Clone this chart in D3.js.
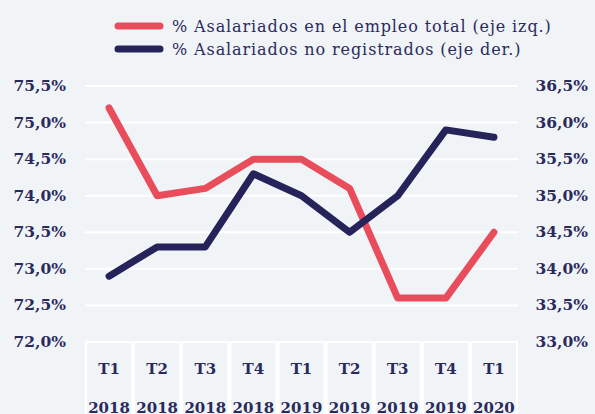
<!DOCTYPE html>
<html>
<head>
<meta charset="utf-8">
<script src="https://cdnjs.cloudflare.com/ajax/libs/d3/7.8.5/d3.min.js"></script>
<style>
  html, body { margin: 0; padding: 0; background: #f0f4f7; }
  svg { display: block; font-family: 'DejaVu Serif', serif; }
</style>
</head>
<body>
<div id="vis"></div>
<script>
// Datos
const quarters = ['T1', 'T2', 'T3', 'T4', 'T1', 'T2', 'T3', 'T4', 'T1'];
const years = ['2018', '2018', '2018', '2018', '2019', '2019', '2019', '2019', '2020'];
const asalariados = [75.2, 74.0, 74.1, 74.5, 74.5, 74.1, 72.6, 72.6, 73.5];
const noRegistrados = [33.9, 34.3, 34.3, 35.3, 35.0, 34.5, 35.0, 35.9, 35.8];
const leftTicks = [72.0, 72.5, 73.0, 73.5, 74.0, 74.5, 75.0, 75.5];
const rightTicks = [33.0, 33.5, 34.0, 34.5, 35.0, 35.5, 36.0, 36.5];
const legendLabels = ['% Asalariados en el empleo total (eje izq.)', '% Asalariados no registrados (eje der.)'];

const WIDTH = 595;
const HEIGHT = 414;
const RED = '#e94d5c';
const NAVY = '#25235a';
const TEXT = '#2b2a5c';

const SVG = d3.select('#vis').append('svg')
  .attr('width', WIDTH).attr('height', HEIGHT);

const x = d3.scaleBand().domain(d3.range(quarters.length)).range([85, 518]);
const yLeft = d3.scaleLinear().domain([72, 75.5]).range([342, 86]);
const yRight = d3.scaleLinear().domain([33, 36.5]).range([342, 86]);

const fmt = (v) => d3.format('.1f')(v).replace('.', ',') + '%';

// grid
SVG.append('g').selectAll('line')
  .data(leftTicks.slice(1))
  .join('line')
  .attr('x1', 85).attr('x2', 518)
  .attr('y1', (d) => yLeft(d)).attr('y2', (d) => yLeft(d))
  .attr('stroke', '#ffffff').attr('stroke-width', 2);

// tabla de categorias
const cells = SVG.append('g').selectAll('g')
  .data(quarters)
  .join('g')
  .attr('transform', (d, i) => `translate(${x(i)},342)`);

cells.append('rect')
  .attr('x', 1).attr('y', 0)
  .attr('width', x.bandwidth() - 2).attr('height', 100)
  .attr('fill', 'none').attr('stroke', '#ffffff').attr('stroke-width', 2);

cells.append('text')
  .attr('x', x.bandwidth() / 2).attr('y', 32)
  .attr('text-anchor', 'middle')
  .attr('font-size', 15).attr('font-weight', 'bold').attr('fill', TEXT)
  .text((d) => d);

cells.append('text')
  .attr('x', x.bandwidth() / 2).attr('y', 71)
  .attr('text-anchor', 'middle')
  .attr('font-size', 15).attr('font-weight', 'bold').attr('fill', TEXT)
  .text((d, i) => years[i]);

// ejes
SVG.append('g').selectAll('text')
  .data(leftTicks)
  .join('text')
  .attr('x', 66).attr('y', (d) => yLeft(d) + 5)
  .attr('text-anchor', 'end')
  .attr('font-size', 15.5).attr('font-weight', 'bold').attr('fill', TEXT)
  .text(fmt);

SVG.append('g').selectAll('text')
  .data(rightTicks)
  .join('text')
  .attr('x', 588).attr('y', (d) => yRight(d) + 5)
  .attr('text-anchor', 'end')
  .attr('font-size', 15.5).attr('font-weight', 'bold').attr('fill', TEXT)
  .text(fmt);

// lineas
const cx = (i) => x(i) + x.bandwidth() / 2;

SVG.append('path')
  .datum(asalariados)
  .attr('d', d3.line().x((d, i) => cx(i)).y((d) => yLeft(d)))
  .attr('fill', 'none').attr('stroke', RED).attr('stroke-width', 7)
  .attr('stroke-linecap', 'round').attr('stroke-linejoin', 'round');

SVG.append('path')
  .datum(noRegistrados)
  .attr('d', d3.line().x((d, i) => cx(i)).y((d) => yRight(d)))
  .attr('fill', 'none').attr('stroke', NAVY).attr('stroke-width', 7)
  .attr('stroke-linecap', 'round').attr('stroke-linejoin', 'round');

// leyenda
const legend = SVG.append('g').selectAll('g')
  .data(legendLabels)
  .join('g')
  .attr('transform', (d, i) => `translate(118,${26 + i * 23})`);

legend.append('line')
  .attr('x1', 0).attr('x2', 42)
  .attr('stroke', (d, i) => (i === 0 ? RED : NAVY))
  .attr('stroke-width', 7).attr('stroke-linecap', 'round');

legend.append('text')
  .attr('x', 54).attr('y', 6)
  .attr('font-size', 16).attr('letter-spacing', 0.9).attr('fill', TEXT)
  .text((d) => d);
</script>
</body>
</html>
